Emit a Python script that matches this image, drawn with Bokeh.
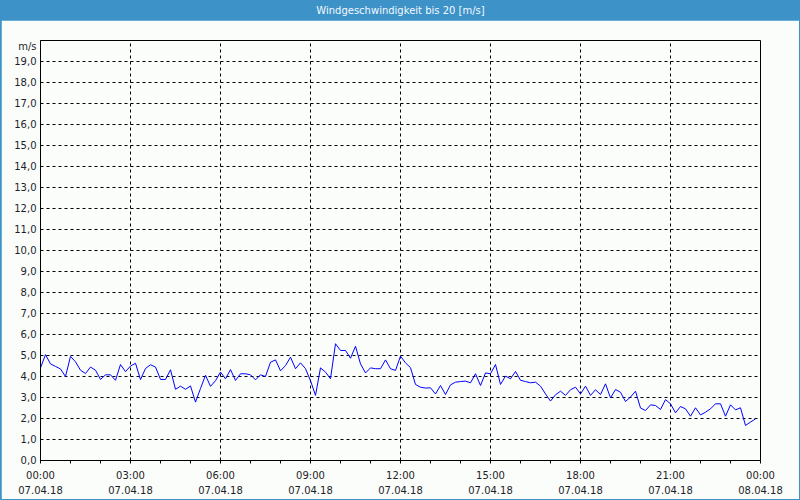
from bokeh.plotting import figure
from bokeh.models import FixedTicker, LinearAxis, Range1d, ColumnDataSource
from bokeh.layouts import column
from bokeh.embed import file_html
from bokeh.resources import INLINE
from bokeh.core.properties import value

title_text = "Windgeschwindigkeit bis 20 [m/s]"
unit_label = "m/s"
sample_minutes = 10
speed = [
    4.41, 5.04, 4.60, 4.48, 4.36, 4.00, 4.96, 4.70, 4.30, 4.14, 4.45, 4.30,
    3.86, 4.08, 4.08, 3.82, 4.57, 4.23, 4.50, 4.63, 3.85, 4.38, 4.56, 4.45,
    3.86, 3.86, 4.32, 3.39, 3.54, 3.39, 3.55, 2.78, 3.43, 4.06, 3.53, 3.80,
    4.21, 3.89, 4.33, 3.81, 4.13, 4.13, 4.08, 3.84, 4.08, 4.00, 4.68, 4.79,
    4.27, 4.52, 4.92, 4.37, 4.65, 4.37, 3.80, 3.10, 4.41, 4.21, 3.89, 5.56,
    5.24, 5.24, 4.87, 5.44, 4.60, 4.17, 4.41, 4.37, 4.37, 4.79, 4.37, 4.29,
    4.97, 4.65, 4.42, 3.62, 3.49, 3.45, 3.46, 3.17, 3.57, 3.14, 3.60, 3.73,
    3.76, 3.78, 3.70, 4.13, 3.57, 4.17, 4.13, 4.57, 3.62, 4.02, 3.89, 4.24,
    3.82, 3.76, 3.70, 3.73, 3.54, 3.17, 2.83, 3.13, 3.30, 3.10, 3.37, 3.49,
    3.17, 3.54, 3.10, 3.37, 3.14, 3.65, 2.98, 3.38, 3.25, 2.81, 3.02, 3.30,
    2.50, 2.38, 2.65, 2.62, 2.43, 2.90, 2.70, 2.27, 2.57, 2.46, 2.11, 2.51,
    2.17, 2.30, 2.46, 2.70, 2.70, 2.11, 2.65, 2.41, 2.51, 1.67, 1.83, 1.98,
]
hour_ticks = [0, 3, 6, 9, 12, 15, 18, 21, 24]
hour_labels = ["00:00", "03:00", "06:00", "09:00", "12:00", "15:00", "18:00", "21:00", "00:00"]
date_labels = ["07.04.18"] * 8 + ["08.04.18"]
y_ticks = list(range(0, 20))
unit_tick = 19.72

hours = [i * sample_minutes / 60 for i in range(len(speed))]

FONT = "DejaVu Sans"
BLUE_BAR = "#3d92c8"
BG = "#fbfdfb"
TXT = "#1e1e28"

# header bar
hdr = figure(width=800, height=20, x_range=Range1d(0, 1), y_range=Range1d(0, 1),
             toolbar_location=None, output_backend="svg",
             x_axis_location=None, y_axis_location=None, min_border=0)
hdr.grid.visible = False
hdr.outline_line_color = None
hdr.background_fill_color = None
hdr.border_fill_color = BLUE_BAR
hdr.text(x=[0.5], y=[0.5], text=[title_text], text_align="center", text_baseline="middle",
         text_color="#f4f9ff", text_font=value(FONT), text_font_size="10px")

# main chart
p = figure(width=798, height=479, x_range=Range1d(0, 24), y_range=Range1d(0, 20),
           toolbar_location=None, output_backend="svg", margin=(0, 1, 1, 1),
           min_border_left=39, min_border_right=39, min_border_top=20, min_border_bottom=39)
p.background_fill_color = BG
p.border_fill_color = BG
p.outline_line_color = "black"
p.outline_line_width = 1

src = ColumnDataSource(dict(x=hours, y=speed))
p.line("x", "y", source=src, line_color="#0000ff", line_width=1)

# x axis (times)
xa = p.xaxis[0]
xa.ticker = FixedTicker(ticks=hour_ticks, minor_ticks=[h for h in range(25) if h % 3])
xa.major_label_overrides = {t: l for t, l in zip(hour_ticks, hour_labels)}
xa.axis_line_color = "black"
xa.major_tick_in = 0
xa.major_tick_out = 3
xa.minor_tick_in = 0
xa.minor_tick_out = 3
xa.major_tick_line_color = "black"
xa.minor_tick_line_color = "black"
xa.major_label_standoff = 6
xa.major_label_text_font = FONT
xa.major_label_text_font_size = "10px"
xa.major_label_text_color = TXT

# second x axis (dates)
xa2 = LinearAxis(ticker=FixedTicker(ticks=hour_ticks))
xa2.major_label_overrides = {t: l for t, l in zip(hour_ticks, date_labels)}
xa2.axis_line_color = None
xa2.major_tick_line_color = None
xa2.minor_tick_line_color = None
xa2.major_tick_out = 0
xa2.major_tick_in = 0
xa2.major_label_standoff = 2
xa2.major_label_text_font = FONT
xa2.major_label_text_font_size = "10px"
xa2.major_label_text_color = TXT
p.add_layout(xa2, "below")

# y axis
ya = p.yaxis[0]
ya.ticker = FixedTicker(ticks=y_ticks + [unit_tick])
overrides = {t: f"{t},0" for t in y_ticks}
overrides[unit_tick] = unit_label
ya.major_label_overrides = overrides
ya.axis_line_color = "black"
ya.major_tick_in = 0
ya.major_tick_out = 0
ya.minor_tick_line_color = None
ya.major_label_standoff = 4
ya.major_label_text_font = FONT
ya.major_label_text_font_size = "10px"
ya.major_label_text_color = TXT

# grids
p.xgrid.ticker = FixedTicker(ticks=[3, 6, 9, 12, 15, 18, 21])
p.ygrid.ticker = FixedTicker(ticks=list(range(1, 20)))
for g in (p.xgrid[0], p.ygrid[0]):
    g.grid_line_color = "black"
    g.grid_line_dash = "3 3"
    g.grid_line_width = 1
    g.grid_line_alpha = 1.0

layout = column(hdr, p, spacing=0, styles={"background-color": BLUE_BAR})
open("out.html", "w").write(file_html(layout, INLINE))
